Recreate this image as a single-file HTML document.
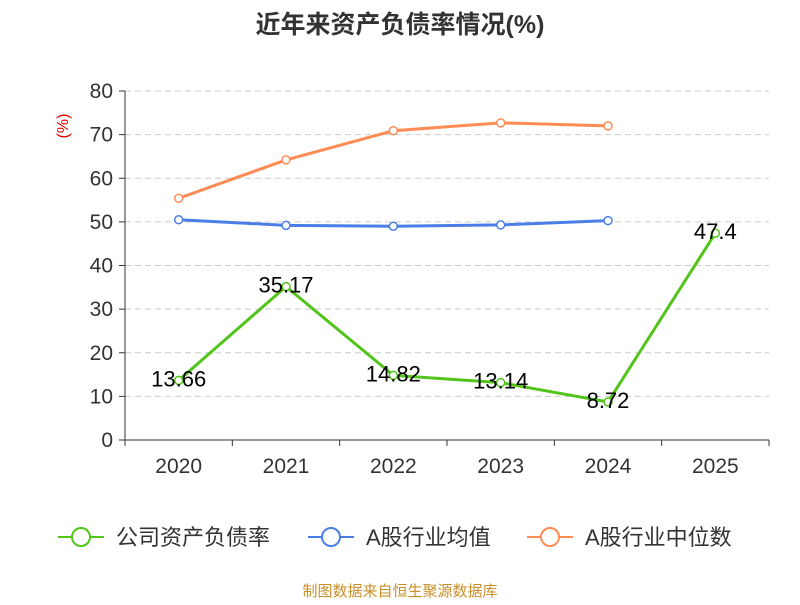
<!DOCTYPE html>
<html><head><meta charset="utf-8">
<style>
body{margin:0;background:#fff;font-family:"Liberation Sans","Noto Sans CJK SC",sans-serif;}
svg text{font-family:"Liberation Sans","Noto Sans CJK SC",sans-serif;}
</style></head>
<body>
<svg id="chart" width="800" height="600" xmlns="http://www.w3.org/2000/svg">
<text x="400" y="33" text-anchor="middle" font-size="25" font-weight="bold" fill="#333">近年来资产负债率情况(%)</text>
<text transform="translate(68,126) rotate(-90)" text-anchor="middle" font-size="16" fill="#e00000">(%)</text>
<g id="grid"></g><g id="axes"></g><g id="series"></g>
<g>
<g><line x1="58" y1="537" x2="104" y2="537" stroke="#52c41a" stroke-width="2"/><circle cx="81" cy="537" r="9" fill="#fff" stroke="#52c41a" stroke-width="2"/><text x="116" y="545" font-size="22" fill="#333">公司资产负债率</text></g>
<g><line x1="308" y1="537" x2="354" y2="537" stroke="#4a7ee6" stroke-width="2"/><circle cx="331" cy="537" r="9" fill="#fff" stroke="#4a7ee6" stroke-width="2"/><text x="366" y="545" font-size="22" fill="#333">A股行业均值</text></g>
<g><line x1="527" y1="537" x2="573" y2="537" stroke="#ff8c55" stroke-width="2"/><circle cx="550" cy="537" r="9" fill="#fff" stroke="#ff8c55" stroke-width="2"/><text x="585" y="545" font-size="22" fill="#333">A股行业中位数</text></g>
</g>
<text x="400" y="596" text-anchor="middle" font-size="15" fill="#c8902a">制图数据来自恒生聚源数据库</text>
</svg>
<script>
const categories=["2020","2021","2022","2023","2024","2025"];
const companyValues=[13.66,35.17,14.82,13.14,8.72,47.4];
const industryAvg=[50.5,49.2,49.0,49.3,50.3];
const industryMedian=[55.4,64.2,70.9,72.7,72.0];
const yTicks=[0,10,20,30,40,50,60,70,80];
const NS="http://www.w3.org/2000/svg";
const x0=125,x1=769,yb=440,yt=91,ymax=80;
const bw=(x1-x0)/categories.length;
const xs=i=>x0+bw*(i+0.5);
const ys=v=>yb-(v/ymax)*(yb-yt);
function mk(tag,attrs,parent){const e=document.createElementNS(NS,tag);for(const k in attrs)e.setAttribute(k,attrs[k]);parent.appendChild(e);return e;}
const grid=document.getElementById('grid'),axes=document.getElementById('axes'),ser=document.getElementById('series');
yTicks.forEach(t=>{
 if(t>0){const g=mk('line',{x1:x0,x2:x1,y1:ys(t),y2:ys(t),stroke:'#ccc','stroke-dasharray':'6,4'},grid);
 
 }
 const tk=mk('line',{x1:x0-6,x2:x0,y1:ys(t),y2:ys(t),stroke:'#333'},axes);
 
 
 const lb=mk('text',{x:x0-12,y:ys(t)+7,'text-anchor':'end','font-size':21,fill:'#333'},axes);lb.textContent=t;
 
 
});
const ya=mk('line',{x1:x0,x2:x0,y1:yt,y2:yb,stroke:'#333'},axes);


const xa=mk('line',{x1:x0,x2:x1,y1:yb,y2:yb,stroke:'#333'},axes);


for(let i=0;i<=categories.length;i++){const t=mk('line',{x1:x0+bw*i,x2:x0+bw*i,y1:yb,y2:yb+6,stroke:'#333'},axes);
 
 }
categories.forEach((c,i)=>{const l=mk('text',{x:xs(i),y:473,'text-anchor':'middle','font-size':21,fill:'#333'},axes);l.textContent=c;
 
 });
function series(vals,color,name,labels){
 const p=mk('polyline',{points:vals.map((v,i)=>xs(i)+','+ys(v)).join(' '),fill:'none',stroke:color,'stroke-width':3},ser);
 
 
 vals.forEach((v,i)=>{const c=mk('circle',{cx:xs(i),cy:ys(v),r:4,fill:'#fff',stroke:color,'stroke-width':1.5},ser);
  
  
  if(labels){const t=mk('text',{x:xs(i),y:ys(v)+6,'text-anchor':'middle','font-size':22,fill:'#000'},ser);t.textContent=v;
  
  }
 });
}
series(industryMedian,'#ff8c55','industry-median',false);
series(industryAvg,'#4a7ee6','industry-avg',false);
series(companyValues,'#52c41a','company',true);
</script>
</body></html>
